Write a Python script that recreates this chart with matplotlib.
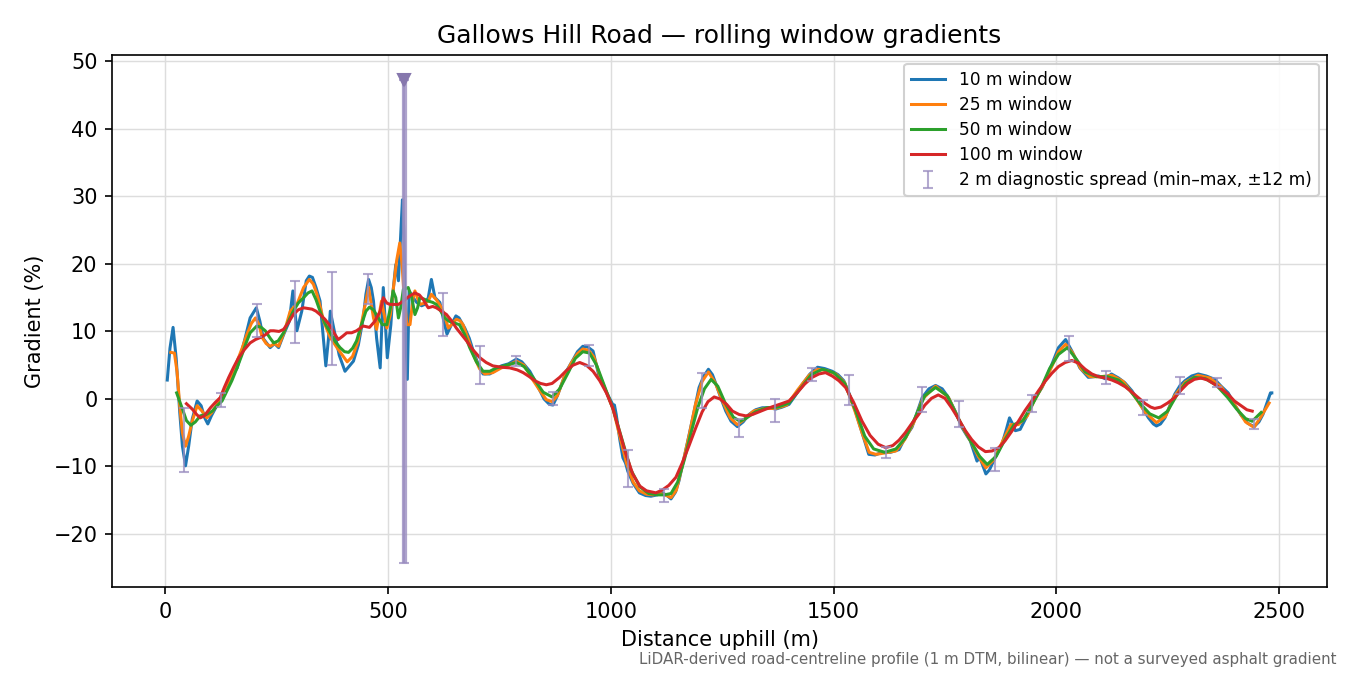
import matplotlib
matplotlib.use("Agg")
import matplotlib.pyplot as plt

# distances (m) and gradients (%), per window size
x10 = [4, 10, 17, 24, 32, 38, 45, 52, 60, 71, 80, 88, 95, 103, 115, 127, 140, 150, 161, 175,
       190, 204, 212, 220, 235, 245, 254, 265, 278, 286, 295, 306, 316, 323, 330, 338, 347, 353, 360, 366,
       370, 379, 390, 403, 412, 422, 433, 444, 450, 456, 462, 467, 474, 482, 489, 498, 506, 511, 517, 523,
       528, 532, 535, 538, 543, 547, 556, 564, 575, 582, 590, 597, 605, 616, 625, 632, 642, 652, 659, 672,
       682, 691, 703, 713, 728, 740, 754, 770, 788, 800, 818, 835, 850, 862, 870, 880, 890, 900, 915, 925,
       937, 948, 960, 974, 990, 1004, 1008, 1012, 1020, 1027, 1033, 1038, 1050, 1064, 1078, 1090, 1104, 1116, 1126, 1135,
       1145, 1153, 1165, 1176, 1187, 1198, 1208, 1219, 1228, 1236, 1246, 1258, 1270, 1284, 1297, 1310, 1325, 1340, 1355, 1370,
       1385, 1400, 1415, 1430, 1447, 1464, 1480, 1497, 1510, 1523, 1535, 1549, 1564, 1579, 1593, 1609, 1628, 1647, 1660, 1676,
       1691, 1699, 1714, 1729, 1744, 1758, 1773, 1788, 1800, 1807, 1815, 1822, 1828, 1842, 1850, 1859, 1868, 1878, 1888, 1895,
       1902, 1908, 1919, 1932, 1945, 1957, 1968, 1980, 1990, 2005, 2021, 2035, 2053, 2072, 2085, 2095, 2110, 2124, 2140, 2154,
       2170, 2184, 2196, 2207, 2218, 2225, 2234, 2244, 2255, 2266, 2278, 2289, 2304, 2319, 2337, 2356, 2370, 2386, 2400, 2415,
       2430, 2444, 2455, 2464, 2472, 2481, 2484]
g10 = [2.8, 7.5, 10.6, 6, -2, -7, -9.9, -7, -3, -0.3, -1, -2.8, -3.7, -2.5, -1, 0.2, 2.0, 3.5, 4.6, 8,
       12.0, 13.5, 11.5, 8.9, 7.6, 8.2, 7.6, 9.5, 11.5, 16.0, 10.1, 13, 17.5, 18.2, 18, 16.5, 14.5, 10, 4.9, 9,
       13.0, 10.1, 6.5, 4.1, 4.8, 5.6, 8, 12, 15.5, 17.7, 16.5, 14.5, 9, 4.6, 16.5, 6.1, 11, 16, 19.9, 17.5,
       24, 29.5, 25, 12, 2.9, 16, 15, 14.3, 13.8, 14, 15, 17.7, 15, 14.3, 11.5, 9.6, 11, 12.3, 12, 10.5,
       9, 7.1, 5, 3.7, 3.7, 4.2, 4.9, 5.2, 5.9, 5.5, 4.1, 2, 0, -0.8, -0.9, 0.5, 2.3, 4.1, 5.8, 7,
       7.8, 7.7, 7.1, 3.2, 1, -0.8, -0.9, -2.3, -6, -8.7, -9.5, -10.7, -12.5, -13.9, -14.3, -14.4, -14.2, -13.9, -14.3, -14.8,
       -13.8, -12.1, -8.5, -5.2, -1.8, 1.7, 3.3, 4.4, 3.6, 2.2, 0.3, -1.8, -3.3, -4.1, -3.4, -2.3, -1.6, -1.3, -1.3, -1.5,
       -1.2, -0.8, 0.6, 2.2, 3.7, 4.7, 4.5, 4.1, 3.6, 2.7, 0.8, -1.8, -5, -8.2, -8.3, -7.9, -7.9, -7.5, -5.8, -4.2,
       -1.3, 0.2, 1.5, 2.0, 1.5, 0.2, -1.8, -4.2, -5.5, -6.2, -7.8, -9.2, -8.6, -11.1, -10.5, -9.2, -8, -6.7, -4.5, -2.8,
       -3.7, -4.7, -4.5, -2.8, -0.8, 0.6, 1.7, 3.5, 5.1, 7.6, 8.8, 7.1, 4.6, 3.2, 3.3, 3.4, 3.0, 3.7, 3.1, 2.4,
       1.2, -0.3, -1.6, -2.8, -3.7, -4.0, -3.7, -2.8, -1, 0.7, 2.0, 2.7, 3.4, 3.7, 3.4, 2.9, 1.9, 0.9, -0.8, -2.4,
       -3.6, -4.1, -3.4, -2.3, -0.8, 0.9, 0.9]

x25 = [12, 20, 26, 32, 38, 45, 52, 60, 71, 82, 93, 104, 116, 127, 138, 150, 161, 172, 183, 193,
       202, 210, 217, 226, 235, 245, 254, 267, 280, 287, 295, 310, 323, 332, 340, 348, 355, 370, 385, 397,
       408, 420, 432, 444, 456, 467, 474, 485, 497, 505, 511, 519, 526, 531, 536, 542, 549, 556, 560, 571,
       582, 590, 597, 608, 620, 628, 635, 645, 653, 661, 668, 680, 691, 705, 717, 735, 754, 770, 788, 805,
       822, 840, 855, 868, 880, 895, 910, 925, 937, 950, 962, 975, 990, 1005, 1020, 1035, 1050, 1064, 1080, 1095,
       1110, 1122, 1135, 1147, 1160, 1176, 1190, 1205, 1219, 1235, 1250, 1268, 1284, 1300, 1320, 1345, 1370, 1395, 1420, 1445,
       1464, 1485, 1505, 1525, 1548, 1565, 1580, 1595, 1615, 1640, 1660, 1680, 1700, 1729, 1758, 1788, 1810, 1825, 1842, 1860,
       1880, 1898, 1915, 1935, 1950, 1970, 1990, 2005, 2021, 2037, 2055, 2075, 2100, 2125, 2150, 2175, 2200, 2225, 2245, 2266,
       2290, 2318, 2345, 2370, 2400, 2425, 2444, 2460, 2478]
g25 = [6.9, 6.8, 4, -1, -5, -7.0, -5.5, -3.3, -1.0, -1.8, -2.8, -2, -0.8, 0.7, 2.2, 3.8, 5.6, 7.5, 9.6, 11.2,
       12.0, 11, 9.1, 8.2, 7.8, 8.2, 7.8, 10, 13, 13.5, 14, 16.5, 17.7, 17, 15.5, 13.5, 11.5, 9.1, 7.6, 6.5,
       5.5, 6.3, 8.5, 12.5, 16.5, 12, 10.3, 14.5, 10.5, 12.5, 16, 20.5, 23.1, 20, 15, 11, 11, 15, 16, 14,
       14.2, 14.5, 15.5, 14.7, 13.5, 12, 10.5, 11.2, 11.8, 11.6, 11, 8.8, 6.6, 4.5, 3.7, 3.9, 4.6, 5.0, 5.6, 5.0,
       3.1, 1.3, -0.1, -0.4, 0.5, 3.2, 5.2, 6.7, 7.4, 7.2, 6.2, 3.5, 1, -1.5, -5.5, -9.5, -12.3, -13.6, -14.1, -14.2,
       -14.0, -14.2, -14.6, -13.5, -10, -5.3, -0.8, 2.6, 4.0, 2.3, -0.2, -2.8, -3.8, -3.0, -1.8, -1.4, -1.4, -0.9, 1.4, 3.5,
       4.4, 4.2, 3.7, 2.4, -1.8, -5.2, -7.9, -8.2, -8.0, -7.7, -6.0, -3.5, 0, 1.9, 0.2, -4.0, -6.5, -8.5, -10.2, -9.0,
       -6.2, -3.8, -3.8, -2.5, -0.3, 2, 4.8, 7.0, 8.1, 6.8, 4.5, 3.3, 3.3, 3.5, 2.6, 0.5, -2.0, -3.5, -2.6, 0.5,
       2.5, 3.5, 3.1, 1.8, -0.8, -3.4, -4.2, -2.6, -0.6]

x50 = [25, 37, 47, 57, 67, 78, 92, 105, 116, 127, 138, 149, 160, 172, 181, 190, 205, 215, 224, 235,
       243, 253, 265, 276, 287, 298, 310, 320, 329, 338, 347, 358, 370, 381, 392, 402, 411, 420, 429, 440,
       450, 458, 467, 478, 487, 497, 505, 511, 517, 523, 528, 534, 545, 553, 560, 566, 571, 580, 590, 600,
       608, 618, 627, 637, 646, 660, 672, 683, 698, 713, 728, 743, 765, 788, 805, 825, 848, 868, 885, 905,
       920, 937, 952, 968, 985, 1005, 1025, 1045, 1065, 1085, 1105, 1120, 1135, 1150, 1165, 1180, 1195, 1210, 1225, 1240,
       1258, 1275, 1290, 1305, 1325, 1350, 1375, 1400, 1425, 1450, 1475, 1500, 1525, 1550, 1570, 1590, 1615, 1640, 1662, 1685,
       1705, 1729, 1755, 1785, 1810, 1828, 1845, 1865, 1885, 1905, 1925, 1945, 1965, 1985, 2005, 2025, 2045, 2065, 2090, 2115,
       2140, 2165, 2190, 2210, 2230, 2250, 2270, 2290, 2310, 2335, 2360, 2385, 2405, 2425, 2440, 2460]
g50 = [0.9, -1.3, -3.2, -3.9, -3.4, -2.5, -2.3, -1.8, -1.0, -0.3, 1.2, 2.7, 4.5, 6.6, 8.3, 9.8, 10.8, 10.6, 10.1, 9.0,
       8.3, 8.6, 9.8, 11.5, 13, 14.2, 15, 15.7, 16, 14.7, 13, 11.2, 9.8, 8.5, 7.6, 7.0, 6.9, 7.5, 8.6, 11,
       13, 13.6, 13.2, 12, 11, 11, 13.5, 16, 15, 12, 13.5, 16.2, 16.5, 15, 12.5, 13.5, 15, 14.8, 14.5, 14.3,
       14, 13, 12, 11.5, 11.3, 11, 9.5, 7.6, 5.5, 4.1, 4.1, 4.6, 5.0, 5.4, 4.8, 3.2, 1.0, 0.3, 1.5, 4.0,
       6.0, 7.0, 6.8, 5.0, 2, -1.5, -6, -10.5, -13.0, -14.0, -14.2, -14.2, -14.0, -12.3, -9, -5.0, -1.3, 1.5, 2.9, 1.9,
       -0.8, -2.7, -3.3, -2.8, -1.9, -1.3, -1.2, -0.6, 1.5, 3.6, 4.4, 3.9, 2.3, -1.8, -5.5, -7.4, -7.9, -7.4, -5.7, -2.5,
       0.5, 1.7, 0.5, -3.5, -6.5, -8.5, -9.7, -8.5, -6, -3.8, -3.2, -1.0, 1.5, 4.5, 6.6, 7.6, 5.9, 4.0, 3.3, 3.3,
       2.8, 1.3, -0.8, -2.2, -2.8, -1.8, 0.5, 2.3, 3.2, 3.0, 2.0, 0.2, -1.5, -2.9, -3.3, -2.0]

x100 = [47, 60, 70, 78, 87, 101, 112, 123, 132, 142, 153, 164, 177, 190, 202, 213, 224, 235, 243, 255,
        265, 276, 287, 298, 310, 320, 329, 338, 347, 358, 370, 380, 388, 398, 407, 418, 429, 444, 458, 470,
        482, 489, 497, 504, 515, 523, 534, 547, 560, 570, 579, 585, 590, 600, 608, 620, 631, 642, 653, 665,
        676, 690, 706, 720, 735, 755, 773, 790, 803, 817, 829, 842, 855, 868, 885, 900, 915, 930, 945, 960,
        975, 990, 1004, 1018, 1033, 1049, 1065, 1080, 1101, 1115, 1130, 1146, 1160, 1175, 1191, 1205, 1218, 1232, 1245, 1260,
        1273, 1288, 1303, 1318, 1333, 1348, 1365, 1383, 1400, 1418, 1435, 1452, 1467, 1482, 1497, 1512, 1527, 1545, 1564, 1582,
        1600, 1617, 1633, 1647, 1661, 1676, 1691, 1705, 1720, 1735, 1750, 1765, 1780, 1796, 1810, 1825, 1841, 1856, 1871, 1885,
        1900, 1915, 1930, 1945, 1960, 1975, 1990, 2005, 2020, 2035, 2050, 2065, 2080, 2095, 2110, 2125, 2139, 2155, 2170, 2184,
        2200, 2212, 2221, 2235, 2250, 2266, 2280, 2295, 2310, 2325, 2340, 2355, 2370, 2386, 2400, 2415, 2428, 2440]
g100 = [-0.7, -1.5, -2.3, -2.8, -2.5, -1.3, -0.5, 0.2, 1.7, 3.2, 4.7, 6.1, 7.3, 8.3, 8.8, 9.1, 9.5, 10.1, 10.1, 10.0,
        10.3, 11.3, 12.5, 13.2, 13.5, 13.4, 13.3, 13, 12.5, 11.8, 10.8, 9.6, 8.8, 9.3, 9.8, 9.8, 10.1, 10.8, 10.6, 11.5,
        13, 15, 14.2, 14, 14, 14, 14.5, 15.2, 15.7, 15.4, 14.7, 14, 13.5, 13.7, 13.5, 13, 12.5, 11.6, 10.5, 9.5,
        8.6, 7.3, 6.1, 5.4, 4.9, 4.7, 4.6, 4.3, 3.9, 3.3, 2.7, 2.3, 2.1, 2.3, 3.2, 4.2, 5.0, 5.4, 5.0, 4.1,
        2.7, 0.9, -1.3, -4.5, -8.0, -11.1, -12.9, -13.6, -13.9, -13.5, -12.8, -11.6, -9.5, -7, -4.2, -1.9, -0.4, 0.3, 0.0, -0.8,
        -1.8, -2.3, -2.5, -2.3, -1.9, -1.5, -1.1, -0.7, -0.3, 0.9, 2.2, 3.2, 3.7, 3.9, 3.4, 2.7, 1.7, -0.5, -3.3, -5.4,
        -6.7, -7.2, -6.9, -6.1, -5.0, -3.6, -2.3, -0.9, 0.1, 0.6, 0.1, -1.3, -2.9, -4.7, -6.0, -7.1, -7.8, -7.7, -7.2, -6.2,
        -4.8, -3.3, -1.7, -0.3, 1.2, 2.6, 3.8, 4.8, 5.4, 5.7, 5.3, 4.4, 3.7, 3.3, 3.1, 2.8, 2.4, 1.8, 1.0, 0.2,
        -0.7, -1.2, -1.4, -1.2, -0.6, 0.2, 1.3, 2.3, 2.9, 3.1, 2.8, 2.2, 1.5, 0.7, -0.3, -1.0, -1.6, -1.8]

# 2 m diagnostic spread, min and max around each sample point
xbar = [41, 125, 205, 291, 373, 455, 535, 623, 706, 788, 870, 952, 1038, 1120, 1204, 1287, 1369, 1451,
        1534, 1617, 1699, 1782, 1862, 1945, 2029, 2112, 2195, 2278, 2361, 2444]
bar_lo = [-10.8, -1.2, 9.2, 8.3, 5.0, 14.0, -24.3, 9.3, 2.2, 4.9, -0.9, 4.9, -13.1, -15.3, -1.3, -5.7, -3.4, 2.7,
          -0.9, -8.7, -1.9, -4.2, -10.6, -2.0, 5.6, 2.2, -2.4, 0.8, 1.8, -4.5]
bar_hi = [-1.3, 0.9, 14.1, 17.5, 18.8, 18.5, 47.3, 15.7, 7.8, 6.4, 1.1, 8.0, -7.5, -13.4, 3.9, -2.9, 0.0, 4.6,
          3.6, -7.1, 1.7, -0.3, -7.2, 0.6, 9.3, 4.1, -0.2, 3.3, 3.1, -3.0]

fig, ax = plt.subplots(figsize=(9, 4.5), dpi=150)

ax.plot(x10, g10, color="tab:blue", lw=1.45, label="10 m window")
ax.plot(x25, g25, color="tab:orange", lw=1.45, label="25 m window")
ax.plot(x50, g50, color="tab:green", lw=1.45, label="50 m window")
ax.plot(x100, g100, color="tab:red", lw=1.45, label="100 m window")

mid = [(a + b) / 2 for a, b in zip(bar_lo, bar_hi)]
half = [(b - a) / 2 for a, b in zip(bar_lo, bar_hi)]
ax.errorbar(xbar, mid, yerr=half, fmt="none", ecolor="#9a8dc0", elinewidth=1.0,
            capsize=2.5, alpha=0.75, label="2 m diagnostic spread (min–max, ±12 m)")

# the outlier spread near 535 m is drawn heavier, with a marker at its top
i = bar_hi.index(max(bar_hi))
ax.vlines(xbar[i], bar_lo[i], bar_hi[i], color="#9a8dc0", lw=2.5, alpha=0.8)
ax.plot(xbar[i], bar_hi[i], marker="v", ms=6, color="#8677ad", ls="none")

ax.grid(True, color="#dddddd", lw=0.7)
ax.set_axisbelow(True)
ax.set_title("Gallows Hill Road — rolling window gradients", fontsize=12)
ax.set_xlabel("Distance uphill (m)", fontsize=10)
ax.set_ylabel("Gradient (%)", fontsize=10)
ax.tick_params(labelsize=10)
ax.legend(loc="upper right", fontsize=8.2, labelspacing=0.42, framealpha=0.9)

fig.text(0.99, 0.012, "LiDAR-derived road-centreline profile (1 m DTM, bilinear) — not a surveyed asphalt gradient",
         ha="right", va="bottom", fontsize=7.25, color="#666666")

fig.subplots_adjust(left=0.083, right=0.983, top=0.918, bottom=0.13)
fig.savefig("out.png")
